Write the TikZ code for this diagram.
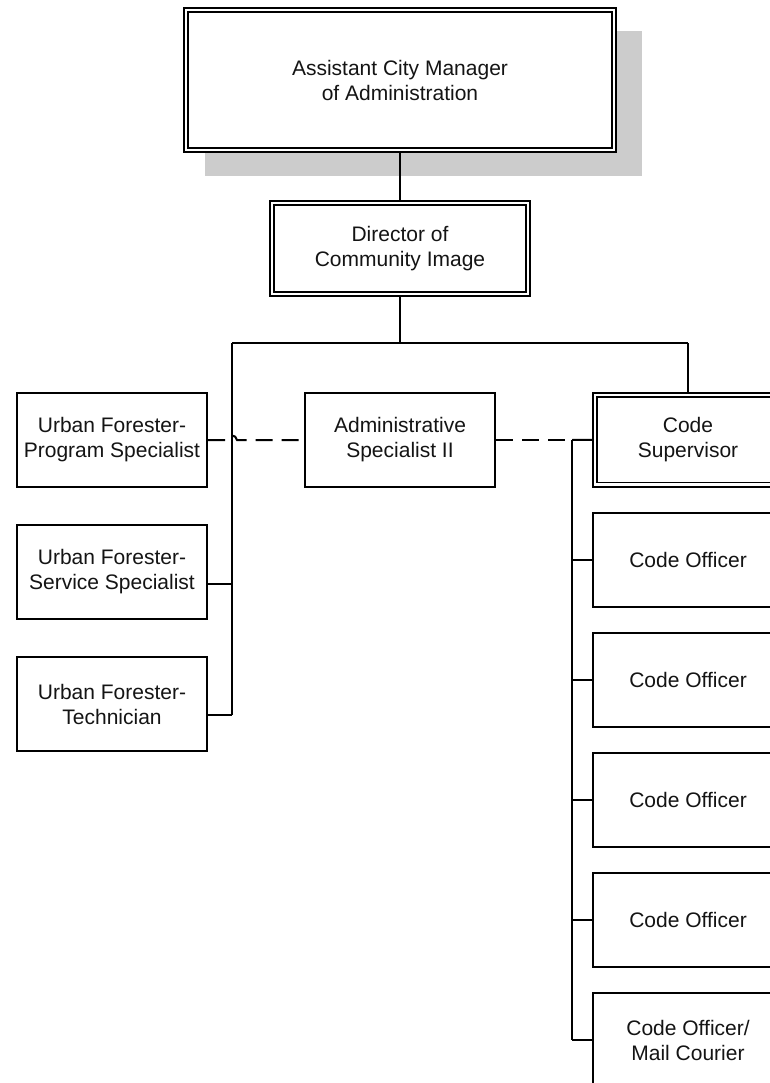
\documentclass[tikz,border=0pt]{standalone}
\usepackage{fontspec}
\setmainfont{Liberation Sans}
\definecolor{shadowgray}{RGB}{204,204,204}
\definecolor{txt}{RGB}{20,20,20}
\begin{document}
\begin{tikzpicture}[x=1pt,y=-1pt,
  box/.style={draw, line width=2pt, minimum width=190pt, minimum height=94pt,
    inner sep=0pt, align=center, fill=white, text=txt,
    font=\fontsize{21}{25}\selectfont},
  dbox/.style={box, line width=1.8pt, double, double distance=2.4pt, outer sep=3pt},
  conn/.style={line width=2pt},
  dashconn/.style={line width=2pt, dash pattern=on 17pt off 9pt}]
\useasboundingbox (0,0) rectangle (770,1083);
% shadow of the top box
\fill[shadowgray] (205,31) rectangle (642,176);
% nodes
\node[dbox, minimum width=428pt, minimum height=140pt] (acm) at (400,80)
  {Assistant City Manager\\of Administration};
\node[dbox, minimum width=256pt, minimum height=91pt] (dir) at (400,248.5)
  {Director of\\Community Image};
\node[box] (prog) at (112,440) {Urban Forester-\\Program Specialist};
\node[box] (serv) at (112,572) {Urban Forester-\\Service Specialist};
\node[box] (tech) at (112,704) {Urban Forester-\\Technician};
\node[box] (adm) at (400,440) {Administrative\\Specialist II};
\node[dbox, minimum width=186pt, minimum height=89.5pt] (sup) at (688,439.75)
  {Code\\Supervisor};
\node[box] (o1) at (688,560) {Code Officer};
\node[box] (o2) at (688,680) {Code Officer};
\node[box] (o3) at (688,800) {Code Officer};
\node[box] (o4) at (688,920) {Code Officer};
\node[box] (o5) at (688,1040) {Code Officer/\\Mail Courier};
% junction coordinates
\coordinate (j) at (400,343);
\coordinate (jl) at (232,343);
\coordinate (jr) at (688,343);
\coordinate (ls) at (232,584);
\coordinate (lb) at (232,715);
\coordinate (rt) at (572,440);
\coordinate (rb) at (572,1040);
% solid connectors
\draw[conn] (acm.south) -- (dir.north);
\draw[conn] (dir.south) -- (j);
\draw[conn] (jl) -- (jr);
\draw[conn] (jr) -- (sup.north);
\draw[conn] (jl) -- (lb);
\draw[conn] (ls) -- (serv.east |- ls);
\draw[conn] (lb) -- (tech.east |- lb);
\draw[conn] (rt) -- (rb);
\draw[conn] (rt) -- (sup.west);
\foreach \o in {o1,o2,o3,o4,o5}{
  \draw[conn] (rb |- \o.west) -- (\o.west);
}
% dashed connectors
\draw[dashconn] (prog.east) -- (227,440) .. controls (228,434) and (236,434) .. (237,440) -- (adm.west);
\draw[dashconn] (adm.east) -- (rt);
\end{tikzpicture}
\end{document}
